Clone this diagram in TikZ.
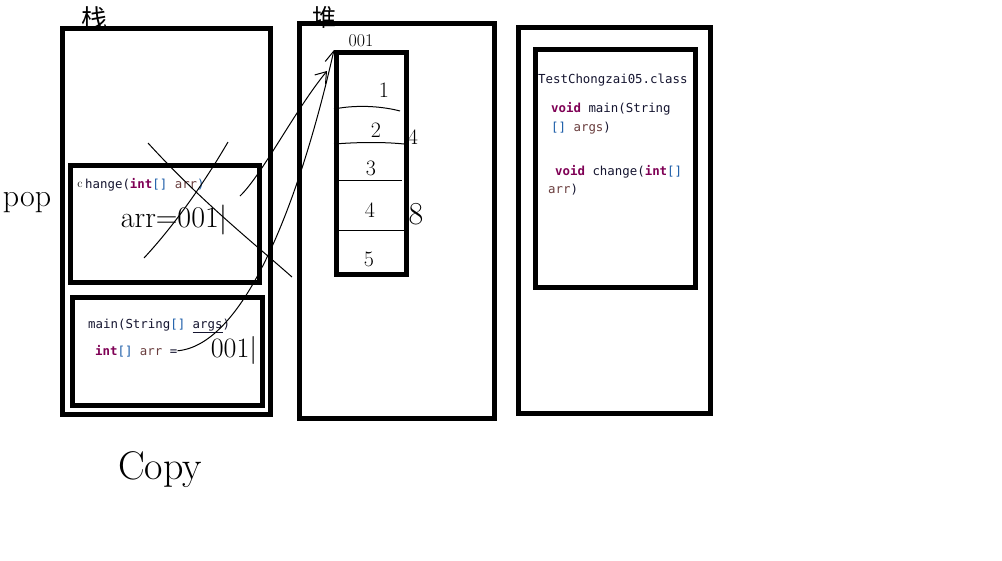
\documentclass[tikz,border=0pt]{standalone}
\usepackage{fontspec}
\setmonofont{DejaVu Sans Mono}
\newfontfamily\cjk{Noto Sans CJK SC}
\usetikzlibrary{arrows.meta}
\definecolor{kw}{HTML}{7F0055}
\definecolor{vr}{HTML}{6A3E3E}
\definecolor{br}{HTML}{1A5CA8}
\definecolor{tx}{HTML}{151530}
\begin{document}
\begin{tikzpicture}[x=1pt,y=-1pt,
  bigbox/.style={draw=black,line width=5pt},
  code/.style={anchor=base west,inner sep=0pt,font=\ttfamily\fontsize{12.4}{14}\selectfont,text=tx},
  hand/.style={inner sep=0pt,font=\fontsize{22}{24}\selectfont},
  pen/.style={draw=black,line width=1pt}]
\useasboundingbox (0,0) rectangle (1002,560);
\fill[white] (0,0) rectangle (1002,560);
% stack
\draw[bigbox] (62,28) rectangle (270,414);
\draw[bigbox] (70,165) rectangle (259,282);
\draw[bigbox] (72,297) rectangle (262,405);
% heap
\draw[bigbox] (299,23) rectangle (494,418);
\node[bigbox,minimum width=70pt,minimum height=222pt,anchor=north west,inner sep=0pt] (arr) at (334,50) {};
% class area
\draw[bigbox] (518,27) rectangle (710,413);
\draw[bigbox] (535,49) rectangle (695,287);
% array row lines
\draw[pen] (334,109) .. controls (360,104) and (385,107) .. (400,111);
\draw[pen] (334,144) .. controls (360,142) and (385,142) .. (404,144);
\draw[pen] (334,180) -- (402,180);
\draw[pen] (334,230) -- (405,230);
% labels
\node[hand,font=\cjk\fontsize{26}{28}\selectfont] (zhan) at (94,19) {栈};
\node[hand,font=\cjk\fontsize{24}{26}\selectfont] (dui) at (324,17) {堆};
\node[hand,font=\fontsize{32}{34}\selectfont] (pop) at (27,203) {pop};
\node[hand,font=\fontsize{40}{42}\selectfont] (copy) at (160,470) {Copy};
\node[hand,font=\fontsize{18}{20}\selectfont] (addr) at (361,41) {001};
\node[hand] (n1) at (384,90) {1};
\node[hand] (n2) at (376,130) {2};
\node[hand] (n4a) at (413,137) {4};
\node[hand] (n3) at (371,168) {3};
\node[hand] (n4) at (370,210) {4};
\node[hand,font=\fontsize{32}{34}\selectfont] (n8) at (416,214) {8};
\node[hand] (n5) at (369,259) {5};
\node[hand,font=\fontsize{30}{32}\selectfont] (arrval) at (174,220) {arr=001|};
\node[hand,font=\fontsize{28}{30}\selectfont] (mainval) at (234,350) {001|};
% code text
\node[code] (chg) at (85,188) {hange(\textcolor{kw}{\bfseries int}\textcolor{br}{[]} \textcolor{vr}{arr}\textcolor{br}{)}};
\node[hand,font=\fontsize{12}{12}\selectfont] (cc) at (80,185) {c};
\node[code] (mainsig) at (88,328) {main(String\textcolor{br}{[]} \underline{args})};
\node[code] (intarr) at (95,355) {\textcolor{kw}{\bfseries int}\textcolor{br}{[]} \textcolor{vr}{arr} =};
\node[code] (cls) at (538,83) {TestChongzai05.class};
\node[code] (m1) at (551,112) {\textcolor{kw}{\bfseries void} main(String};
\node[code] (m2) at (551,131) {\textcolor{br}{[]} \textcolor{vr}{args})};
\node[code] (c1) at (555,175) {\textcolor{kw}{\bfseries void} change(\textcolor{kw}{\bfseries int}\textcolor{br}{[]}};
\node[code] (c2) at (548,193) {\textcolor{vr}{arr})};
% connectors
\coordinate (cstart) at (240,196);
\coordinate (ctip) at (327,71);
\draw[pen,-{Straight Barb[length=10pt,width=14pt]}] (cstart) .. controls (262,175) and (295,110) .. (ctip);
\draw[pen,-{Straight Barb[length=12pt,width=12pt]}] (intarr.east) .. controls (245,345) and (300,200) .. (arr.north west);
% cross
\draw[pen] (148,143) .. controls (200,200) and (250,240) .. (292,277);
\draw[pen] (228,142) .. controls (200,190) and (170,230) .. (144,258);
\end{tikzpicture}
\end{document}
